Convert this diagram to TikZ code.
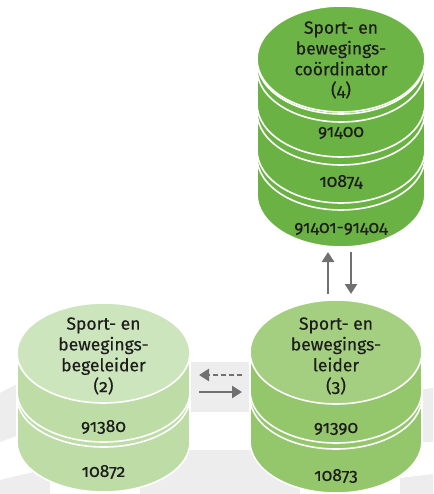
\documentclass[tikz,border=0pt]{standalone}
\usepackage{fontspec}
\setmainfont{Fira Sans}[Numbers=OldStyle, FakeBold=0.35]
\usetikzlibrary{arrows.meta}

% colours
\definecolor{ringgray}{HTML}{EDEDED}
\definecolor{arrowgray}{HTML}{707070}
\definecolor{inktext}{HTML}{1D1D1B}
\definecolor{faceA}{HTML}{6DB446}
\definecolor{sideA}{HTML}{6BB244}
\definecolor{faceB}{HTML}{A4CF80}
\definecolor{sideB}{HTML}{94C66C}
\definecolor{faceC}{HTML}{CDE5BD}
\definecolor{sideC}{HTML}{BDDCA6}

% one disc of a stacked cylinder: cx, rx, ry, y of top face, y of bottom, fill, face fill
\newcommand{\stackdisc}[7]{%
  \filldraw[fill=#6, draw=white, line width=1.6pt]
    (#1-#2,-#4) -- (#1-#2,-#5)
    arc[start angle=180, end angle=360, x radius=#2, y radius=#3]
    -- (#1+#2,-#4)
    arc[start angle=0, end angle=180, x radius=#2, y radius=#3] -- cycle;
  \filldraw[fill=#7, draw=white, line width=1.6pt]
    (#1,-#4) ellipse[x radius=#2, y radius=#3];
}

\tikzset{
  title/.style={align=center, text=inktext, inner sep=0pt,
    font=\fontsize{17.5}{20.8}\selectfont},
  code/.style={text=inktext, inner sep=0pt, font=\fontsize{17.5}{20.8}\selectfont},
  flow/.style={draw=arrowgray, line width=2.6pt,
    -{Triangle[width=12pt,length=10pt]}},
}

\begin{document}
\begin{tikzpicture}[x=1pt,y=1pt]
\useasboundingbox (0,0) rectangle (433,-494);

% grey ring segments behind the stacks
\fill[ringgray] (0,-393) -- (30,-377) -- (30,-431) -- (0,-442) -- cycle;
\fill[ringgray] (120,-362) rectangle (310,-412);
\fill[ringgray] (410,-391) -- (433,-388) -- (433,-442) -- (410,-442) -- cycle;
\fill[ringgray] (0,-480) -- (50,-468) -- (50,-494) -- (0,-494) -- cycle;
\fill[ringgray] (140,-450) rectangle (300,-494);
\fill[ringgray] (400,-478) -- (433,-474) -- (433,-494) -- (400,-494) -- cycle;

% stack 4 (top right)
\stackdisc{341}{84}{53}{157}{194}{sideA}{sideA}
\stackdisc{341}{84}{53}{112}{150}{sideA}{sideA}
\stackdisc{341}{84}{53}{69}{104}{sideA}{sideA}
\stackdisc{341}{84}{53}{59}{61}{sideA}{faceA}
\node[title] (t4) at (341,-60) {Sport- en\\bewegings-\\coördinator\\(4)};
\node[code] (c4a) at (341,-133) {91400};
\node[code] (c4b) at (341,-182) {10874};
\node[code] (c4c) at (341,-229) {91401-91404};

% stack 2 (bottom left)
\stackdisc{103.5}{86.5}{50}{397}{442}{sideC}{sideC}
\stackdisc{103.5}{86.5}{50}{353}{392}{sideC}{faceC}
\node[title] (t2) at (103.5,-356) {Sport- en\\bewegings-\\begeleider\\(2)};
\node[code] (c2a) at (103.5,-427) {91380};
\node[code] (c2b) at (103.5,-472) {10872};

% stack 3 (bottom right)
\stackdisc{336}{86}{52}{397}{441}{sideB}{sideB}
\stackdisc{336}{86}{52}{352}{391}{sideB}{faceB}
\node[title] (t3) at (336,-356) {Sport- en\\bewegings-\\leider\\(3)};
\node[code] (c3a) at (336,-429) {91390};
\node[code] (c3b) at (336,-476) {10873};

% connector end points
\coordinate (up0) at (328,-294);
\coordinate (up1) at (328,-252);
\coordinate (dn0) at (351,-252);
\coordinate (dn1) at (351,-294);
\coordinate (lf0) at (242,-375);
\coordinate (lf1) at (199,-375);
\coordinate (rt0) at (199,-392);
\coordinate (rt1) at (242,-392);

\draw[flow] (up0) -- (up1);
\draw[flow] (dn0) -- (dn1);
\draw[flow, dash pattern=on 5pt off 3pt] (lf0) -- (lf1);
\draw[flow] (rt0) -- (rt1);
\end{tikzpicture}
\end{document}
